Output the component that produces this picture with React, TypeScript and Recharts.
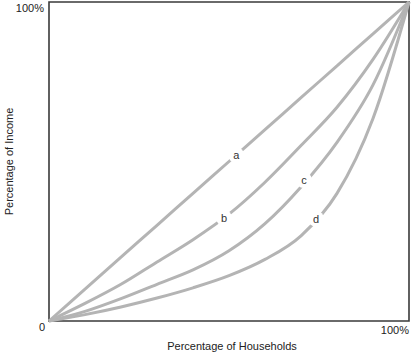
import { LineChart, Line, XAxis, YAxis, ReferenceArea, ReferenceDot, Label } from 'recharts';

// share of households (x) and cumulative share of income (y) for each curve
const households = [0, 10, 20, 30, 40, 50, 60, 70, 80, 90, 100];
const curveA = [0, 10, 20, 30, 40, 50, 60, 70, 80, 90, 100];
const curveB = [0, 5.5, 11.5, 18.5, 25.5, 33.5, 43.5, 55, 67, 82, 100];
const curveC = [0, 3, 7, 11.5, 16, 22, 30.5, 42, 56, 74, 100];
const curveD = [0, 2, 4.4, 7.2, 10.4, 14.2, 19.3, 26.7, 40, 63.5, 100];

const curveNames = ['a', 'b', 'c', 'd'];
const labelX = [52, 48.6, 70.8, 74.2];
const labelY = [52, 32.3, 44.2, 32];

const xTicks = [0, 100];
const yTicks = [100];

const data = households.map((h, i) => ({
  h,
  a: curveA[i],
  b: curveB[i],
  c: curveC[i],
  d: curveD[i],
}));

const FONT = 'Liberation Sans, Arial, Helvetica, sans-serif';
const LINE = '#b4b4b4';
const FRAME = '#3a3a3a';

const XTick = (props: any) => {
  const { x, y, payload } = props;
  const isZero = payload.value === 0;
  return (
    <text
      x={isZero ? x - 7 : x}
      y={isZero ? y + 2 : y + 5}
      textAnchor={isZero ? 'middle' : 'end'}
      fontSize={11}
      fontFamily={FONT}
      fill="#222"
    >
      {isZero ? '0' : '100%'}
    </text>
  );
};

const YTick = (props: any) => {
  const { x, y } = props;
  return (
    <text x={x + 3} y={y + 10} textAnchor="end" fontSize={11} fontFamily={FONT} fill="#222">
      100%
    </text>
  );
};

const CurveLabel = (name: string) => (props: any) => {
  const { cx, cy } = props;
  return (
    <g>
      <circle cx={cx} cy={cy} r={8} fill="#fff" />
      <text x={cx} y={cy + 4} textAnchor="middle" fontSize={11} fontFamily={FONT} fill="#333">
        {name}
      </text>
    </g>
  );
};

export default function App() {
  return (
    <div style={{ position: 'absolute', left: 0, top: 0, width: 411, height: 353, background: '#fff' }}>
      <LineChart width={411} height={353} data={data} margin={{ top: 2, right: 2, left: 0, bottom: 0 }}>
        <XAxis
          dataKey="h"
          type="number"
          domain={[0, 100]}
          ticks={xTicks}
          interval={0}
          tick={<XTick />}
          tickLine={false}
          axisLine={false}
          height={32}
        >
          <Label
            value="Percentage of Households"
            position="insideBottom"
            offset={3}
            dx={3}
            style={{ fontSize: 11, fontFamily: FONT, fill: '#222' }}
          />
        </XAxis>
        <YAxis
          type="number"
          domain={[0, 100]}
          ticks={yTicks}
          interval={0}
          tick={<YTick />}
          tickLine={false}
          axisLine={false}
          width={49}
        >
          <Label
            value="Percentage of Income"
            angle={-90}
            position="insideLeft"
            offset={9}
            style={{ fontSize: 11, fontFamily: FONT, fill: '#222', textAnchor: 'middle' }}
          />
        </YAxis>
        <Line type="monotone" dataKey="a" stroke={LINE} strokeWidth={3} dot={false} isAnimationActive={false} />
        <Line type="monotone" dataKey="b" stroke={LINE} strokeWidth={3} dot={false} isAnimationActive={false} />
        <Line type="monotone" dataKey="c" stroke={LINE} strokeWidth={3} dot={false} isAnimationActive={false} />
        <Line type="monotone" dataKey="d" stroke={LINE} strokeWidth={3} dot={false} isAnimationActive={false} />
        <ReferenceArea x1={0} x2={100} y1={0} y2={100} fill="none" stroke={FRAME} strokeWidth={1.6} ifOverflow="visible" />
        {curveNames.map((n, i) => (
          <ReferenceDot key={n} x={labelX[i]} y={labelY[i]} shape={CurveLabel(n)} ifOverflow="visible" />
        ))}
      </LineChart>
    </div>
  );
}
